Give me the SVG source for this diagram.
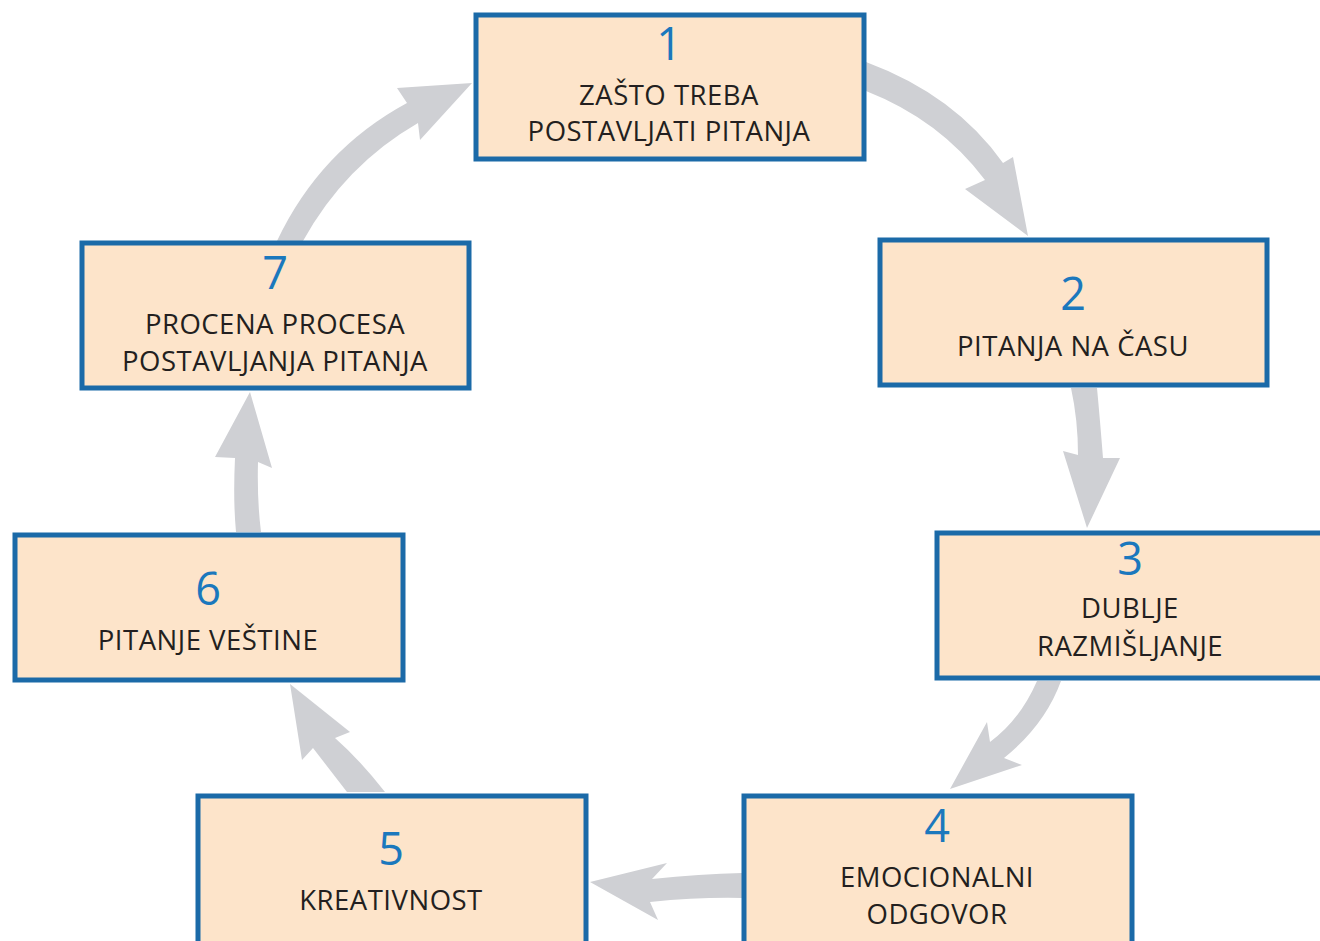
<svg xmlns="http://www.w3.org/2000/svg" width="1320" height="941" viewBox="0 0 1320 941">
<style>
.box{fill:#fde4ca;stroke:#1b6aa8;stroke-width:5}
.num{font-family:"Open Sans","Liberation Sans",sans-serif;font-size:45px;fill:#1b78bd;text-anchor:middle}
.lbl{font-family:"Open Sans","Liberation Sans",sans-serif;font-size:27.5px;letter-spacing:0.5px;fill:#231f20;text-anchor:middle}
.arr{fill:#cfd0d4}
</style>
<rect width="1320" height="941" fill="#ffffff"/>
<g id="connectors">
<path class="arr" d="M 866 62 Q 955 95 1003 163 L 1013 157 L 1028 236 L 965 189 L 985 180 Q 940 120 866 91 Z"/>
<path class="arr" d="M 1071 388 Q 1078 420 1078 455 L 1063 451 L 1087 528 L 1120 458 L 1103 458 Q 1100 420 1097 388 Z"/>
<path class="arr" d="M 1037 681 Q 1020 720 990 742 L 987 722 L 950 789 L 1022 765 L 1004 758 Q 1045 725 1061 681 Z"/>
<path class="arr" d="M 742 873 Q 700 874 652 879 L 667 863 L 590 882 L 658 920 L 650 902 Q 700 897 742 898 Z"/>
<path class="arr" d="M 385 792 Q 360 760 335 738 L 350 732 L 290 684 L 302 760 L 313 748 Q 330 770 347 792 Z"/>
<path class="arr" d="M 236 532 Q 233 500 235 458 L 215 457 L 250 392 L 272 468 L 258 462 Q 257 500 261 532 Z"/>
<path class="arr" d="M 277 241 Q 320 150 407 103 L 397 88 L 472 83 L 420 140 L 418 123 Q 345 165 303 241 Z"/>
</g>
<g id="node1">
<rect class="box" x="476" y="15" width="388" height="144"/>
<text class="num" x="669" y="60">1</text>
<text class="lbl" x="669" y="105">ZAŠTO TREBA</text>
<text class="lbl" x="669" y="141">POSTAVLJATI PITANJA</text>
</g>
<g id="node2">
<rect class="box" x="880" y="240" width="387" height="145"/>
<text class="num" x="1073" y="310">2</text>
<text class="lbl" x="1073" y="356">PITANJA NA ČASU</text>
</g>
<g id="node3">
<rect class="box" x="937" y="533" width="390" height="145"/>
<text class="num" x="1130" y="575">3</text>
<text class="lbl" x="1130" y="618">DUBLJE</text>
<text class="lbl" x="1130" y="656">RAZMIŠLJANJE</text>
</g>
<g id="node4">
<rect class="box" x="744" y="796" width="388" height="150"/>
<text class="num" x="937" y="842">4</text>
<text class="lbl" x="937" y="887">EMOCIONALNI</text>
<text class="lbl" x="937" y="924">ODGOVOR</text>
</g>
<g id="node5">
<rect class="box" x="198" y="796" width="388" height="150"/>
<text class="num" x="391" y="865">5</text>
<text class="lbl" x="391" y="910">KREATIVNOST</text>
</g>
<g id="node6">
<rect class="box" x="15" y="535" width="388" height="145"/>
<text class="num" x="208" y="605">6</text>
<text class="lbl" x="208" y="650">PITANJE VEŠTINE</text>
</g>
<g id="node7">
<rect class="box" x="82" y="243" width="387" height="145"/>
<text class="num" x="275" y="289">7</text>
<text class="lbl" x="275" y="334">PROCENA PROCESA</text>
<text class="lbl" x="275" y="371">POSTAVLJANJA PITANJA</text>
</g>
</svg>
